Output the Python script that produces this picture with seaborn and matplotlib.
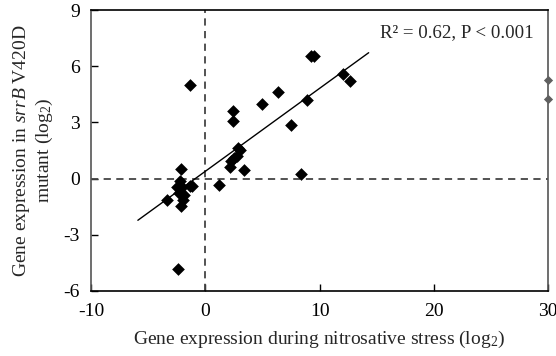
import numpy as np
import seaborn as sns
import matplotlib
import matplotlib.pyplot as plt

matplotlib.use("Agg")

# values
stress_log2 = [-1.37, -2.42, -2.13, -2.19, -2.48, -2.04, -2.34, -1.90, -3.36, -1.95,
               -2.13, -1.31, -1.14, 1.17, 2.39, 2.39, 2.19, 2.25, 2.48, 2.77,
               2.86, 3.06, 3.42, 4.99, 6.36, 7.47, 8.35, 8.93, 9.25, 9.51,
               12.02, 12.67]
mutant_log2 = [5.02, -4.84, 0.52, -0.14, -0.44, -0.44, -0.77, -0.86, -1.16, -1.16,
               -1.48, -0.37, -0.41, -0.32, 3.59, 3.09, 0.61, 0.96, 1.11, 1.20,
               1.64, 1.52, 0.48, 4.00, 4.62, 2.89, 0.27, 4.20, 6.55, 6.55,
               5.57, 5.23]
# points beyond the x range, shown on the right border
out_x = [30, 30]
out_y = [5.25, 4.23]

fit_slope = 0.443
fit_intercept = 0.39
fit_x_range = [-5.9, 14.3]
stats_text = "R² = 0.62, P < 0.001"

sns.set_style("ticks")
plt.rcParams["font.family"] = ["Liberation Serif", "DejaVu Serif"]
plt.rcParams["mathtext.fontset"] = "custom"
plt.rcParams["mathtext.rm"] = "Liberation Serif"
plt.rcParams["mathtext.it"] = "Liberation Serif:italic"
plt.rcParams["axes.unicode_minus"] = False

fig = plt.figure(figsize=(5.56, 3.56), dpi=100)
ax = fig.add_axes([0.1637, 0.1826, 0.822, 0.789])

ax.axhline(0, color="#444444", ls=(0, (4, 3)), lw=1.3, zorder=1)
ax.axvline(0, color="#444444", ls=(0, (4, 3)), lw=1.3, zorder=1)

fx = np.array(fit_x_range)
ax.plot(fx, fit_slope * fx + fit_intercept, color="black", lw=1.0, zorder=2)

sns.scatterplot(x=stress_log2, y=mutant_log2, marker="D", color="black",
                s=42, edgecolor="black", linewidth=0, ax=ax, zorder=3)
ax.scatter(out_x, out_y, marker="D", color="#606060", s=22, linewidths=0,
           clip_on=False, zorder=4)

ax.set_xlim(-10, 30)
ax.set_ylim(-6, 9)
ax.set_xticks([-10, 0, 10, 20, 30])
ax.set_yticks([-6, -3, 0, 3, 6, 9])
ax.tick_params(direction="in", length=5, width=1, labelsize=14, colors="black")
ax.tick_params(axis="x", pad=9)
ax.tick_params(axis="y", pad=8)

for side in ["top", "right", "bottom", "left"]:
    ax.spines[side].set_visible(True)
    ax.spines[side].set_linewidth(1.2)
ax.spines["top"].set_color("black")
ax.spines["bottom"].set_color("black")
ax.spines["left"].set_color("#555555")
ax.spines["right"].set_color("#555555")

ax.text(0.632, 0.905, stats_text, transform=ax.transAxes, fontsize=13.6)

ax.set_xlabel(r"Gene expression during nitrosative stress (log$_2$)", fontsize=14, labelpad=6)
ax.set_ylabel("Gene expression in $\\it{srrB}$ V420D\nmutant (log$_2$)", fontsize=14,
              labelpad=6, linespacing=1.15)

fig.savefig("out.png", dpi=100)
